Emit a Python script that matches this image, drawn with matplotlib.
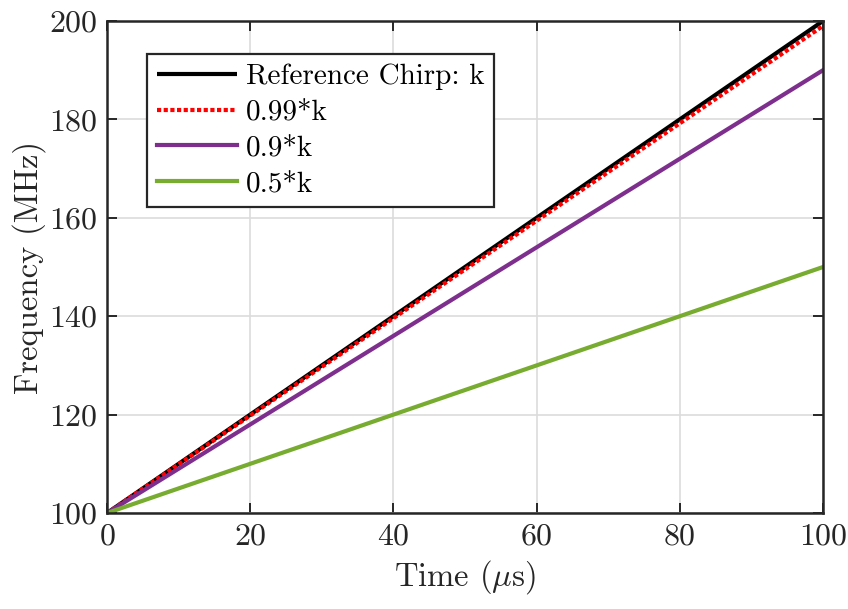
import matplotlib
matplotlib.use("Agg")
import matplotlib.pyplot as plt

plt.rcParams['font.family'] = ['cmr10', 'DejaVu Serif']
plt.rcParams['mathtext.fontset'] = 'cm'
plt.rcParams['axes.formatter.use_mathtext'] = True

time_us = [0, 100]
ref_chirp = [100, 200]
chirp_099 = [100, 199]
chirp_09 = [100, 190]
chirp_05 = [100, 150]
labels = ['Reference Chirp: k', '0.99*k', '0.9*k', '0.5*k']
xticks = [0, 20, 40, 60, 80, 100]
yticks = [100, 120, 140, 160, 180, 200]

fig = plt.figure(figsize=(8.48, 6.09), dpi=100)
ax = fig.add_axes([0.1262, 0.1576, 0.8443, 0.8079])

lw = 3.0
ax.plot(time_us, ref_chirp, color='black', lw=lw, label=labels[0], solid_capstyle='butt')
ax.plot(time_us, chirp_099, color='#FF0000', lw=lw, ls=(0, (1.0, 0.6)), label=labels[1])
ax.plot(time_us, chirp_09, color='#7E2F8E', lw=lw, label=labels[2])
ax.plot(time_us, chirp_05, color='#77AC30', lw=lw, label=labels[3])

ax.set_xlim(0, 100)
ax.set_ylim(100, 200)
ax.set_xticks(xticks)
ax.set_yticks(yticks)
ax.grid(True, color='#dcdcdc', lw=1.2)
ax.set_axisbelow(True)
ax.tick_params(direction='in', top=True, right=True, length=7, width=1.4,
               labelsize=23, colors='#262626', pad=7)
for s in ax.spines.values():
    s.set_color('#262626')
    s.set_linewidth(1.8)
ax.set_xlabel(r'Time ($\mu$s)', fontsize=23.5, color='#262626', labelpad=6)
ax.set_ylabel('Frequency (MHz)', fontsize=23.5, color='#262626', labelpad=2)

leg = ax.legend(loc='upper left', bbox_to_anchor=(0.0559, 0.933), fontsize=21,
                frameon=True, fancybox=False, edgecolor='#262626', framealpha=1,
                handlelength=2.75, handletextpad=0.3, borderpad=0.33,
                labelspacing=0.32, borderaxespad=0)
leg.get_frame().set_linewidth(1.6)

fig.savefig('out.png', dpi=100)
